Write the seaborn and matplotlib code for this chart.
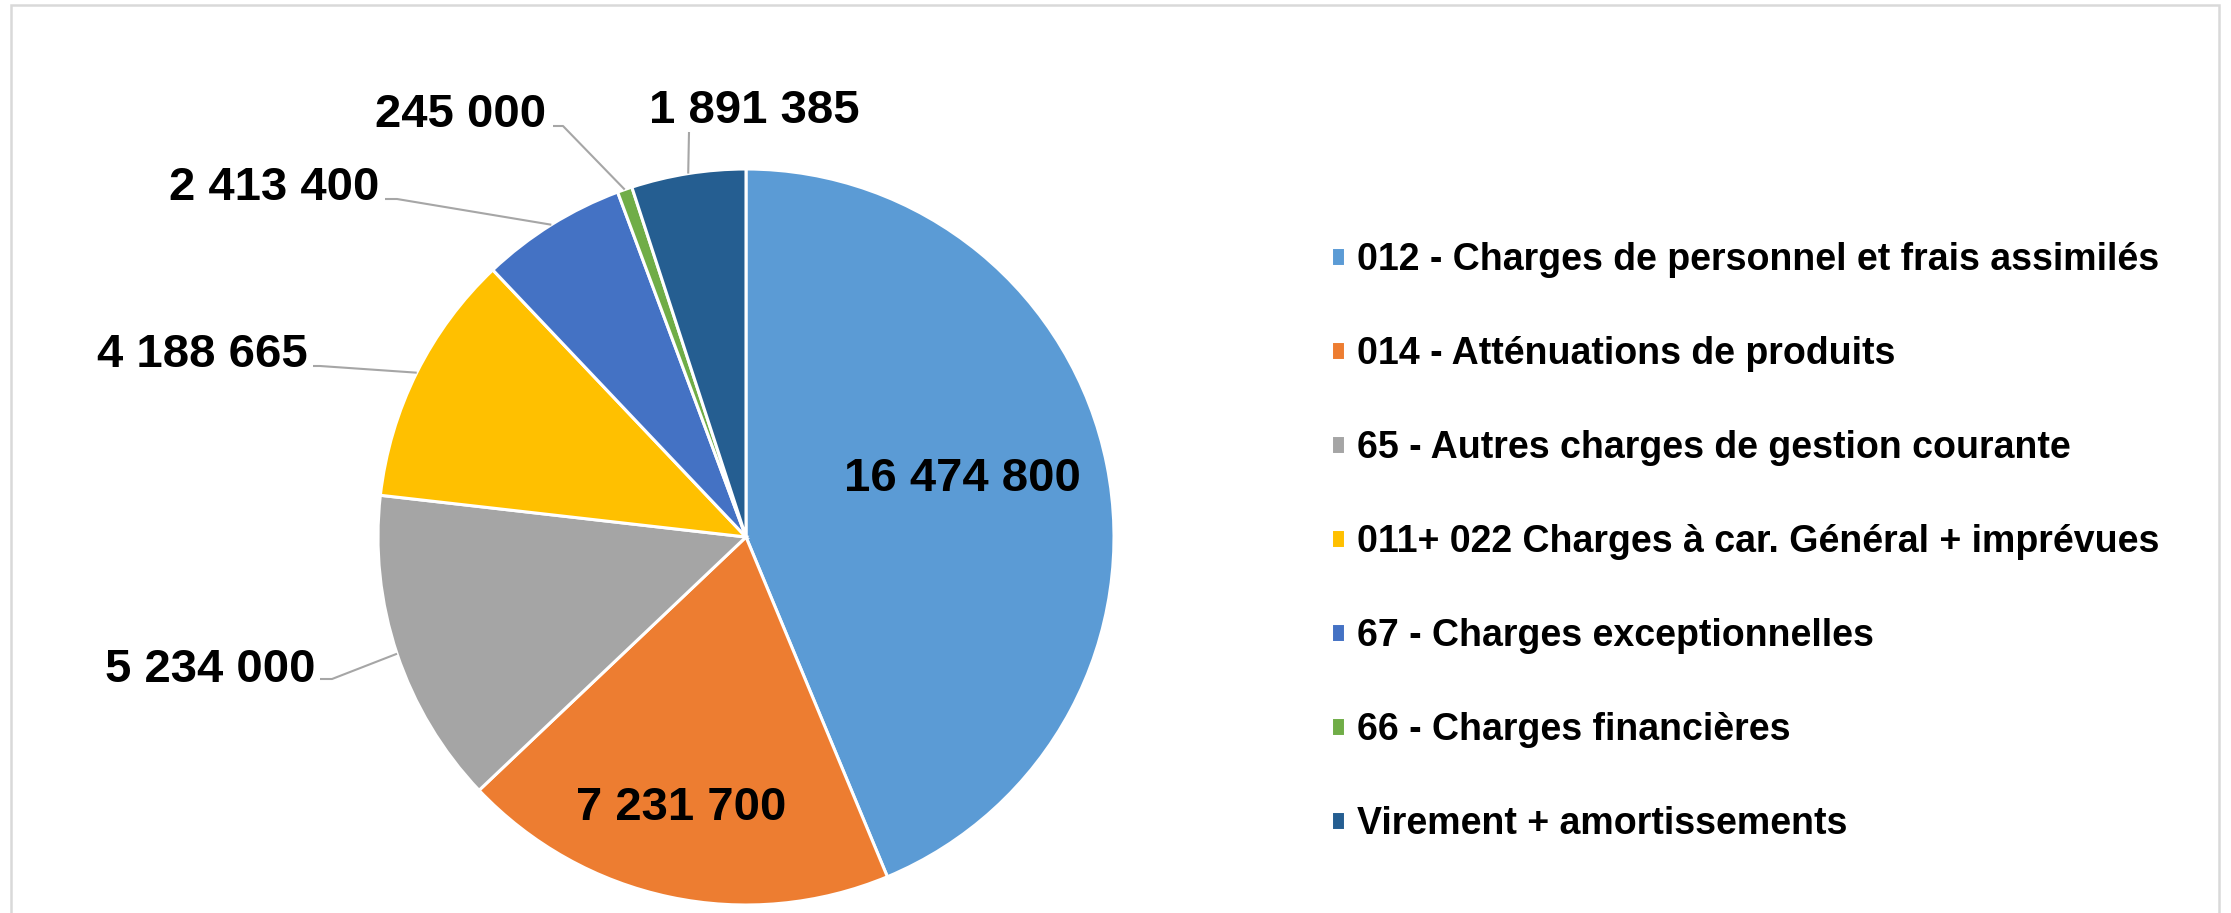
import matplotlib
matplotlib.use("Agg")
import numpy as np
import matplotlib.pyplot as plt
import seaborn as sns
from matplotlib.patches import Rectangle

# Budget data (fonctionnement - dépenses)
categories = [
    "012 - Charges de personnel et frais assimilés",
    "014 - Atténuations de produits",
    "65 - Autres charges de gestion courante",
    "011+ 022 Charges à car. Général + imprévues",
    "67 - Charges exceptionnelles",
    "66 - Charges financières",
    "Virement + amortissements",
]
amounts = [16474800, 7231700, 5234000, 4188665, 2413400, 245000, 1891385]

# Office-like palette
colors = ["#5B9BD5", "#ED7D31", "#A5A5A5", "#FFC000", "#4472C4", "#70AD47", "#255E91"]

# Layout in pixels (origin top-left)
W, H = 2231, 913
CX, CY, R = 746, 537, 368
label_xy = [(962, 491), (681, 820), (210, 682), (202, 367), (274, 200), (461, 127), (754, 123)]
leader_start = [None, None, (320, 679), (313, 366), (385, 199), (553, 126), (689, 132)]
leader_knee = [None, None, (332, 679), (320, 366), (397, 199), (563, 126), (689, 132)]

sns.set_theme(style="white")
plt.rcParams["font.family"] = ["Liberation Sans", "DejaVu Sans"]
plt.rcParams["text.color"] = "black"

fig = plt.figure(figsize=(W / 100, H / 100), dpi=100)
ax = fig.add_axes([0, 0, 1, 1])

wedges, _ = ax.pie(
    amounts,
    colors=sns.color_palette(colors),
    startangle=90,
    counterclock=False,
    center=(CX, H - CY),
    radius=R,
    wedgeprops=dict(edgecolor="white", linewidth=2.2),
)
ax.set_xlim(0, W)
ax.set_ylim(0, H)
ax.set_aspect("equal")
ax.axis("off")

# outer frame
ax.add_patch(Rectangle((11, -20), 2208, H - 5 + 20, fill=False,
                       edgecolor="#D9D9D9", linewidth=1.8, clip_on=False))

# value labels + leader lines
for w, v, (tx, ty), st, kn in zip(wedges, amounts, label_xy, leader_start, leader_knee):
    txt = f"{v:,}".replace(",", " ")
    ax.text(tx, H - ty, txt, ha="center", va="baseline",
            fontsize=34, fontweight="bold", color="black")
    if st is not None:
        mid = np.deg2rad((w.theta1 + w.theta2) / 2)
        ex = CX + R * np.cos(mid)
        ey = H - CY + R * np.sin(mid)
        ax.plot([st[0], kn[0], ex], [H - st[1], H - kn[1], ey],
                color="#A6A6A6", linewidth=1.5, solid_capstyle="butt")

fs = 27
fs_px = fs * 100 / 72
ax.legend(
    wedges, categories,
    loc="center left",
    bbox_to_anchor=(1331 / W, 1 - 542 / H),
    bbox_transform=fig.transFigure,
    frameon=False,
    borderpad=0, borderaxespad=0,
    handlelength=14 / fs_px, handleheight=15 / fs_px,
    handletextpad=12 / fs_px,
    labelspacing=1.545,
    labelcolor="black",
    prop=dict(size=fs, weight="bold"),
)

fig.savefig("out.png", dpi=100, facecolor="white")
